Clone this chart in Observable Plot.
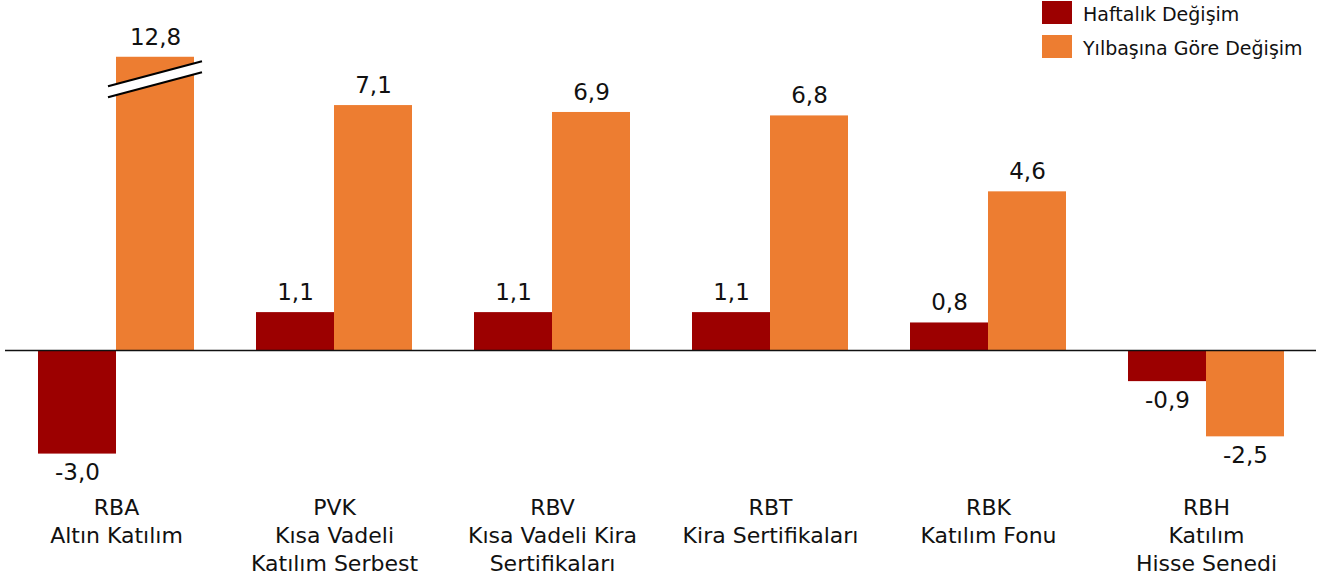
<!DOCTYPE html>
<html>
<head>
<meta charset="utf-8">
<script src="https://cdn.jsdelivr.net/npm/d3@7"></script>
<script src="https://cdn.jsdelivr.net/npm/@observablehq/plot@0.6"></script>
<style>
  html, body { margin: 0; padding: 0; background: #fff; }
  #wrap { position: relative; width: 1326px; height: 587px; font-family: "DejaVu Sans", sans-serif; }
  #legend { position: absolute; left: 1042px; top: 1px; font-size: 19px; color: #111; }
  .item { display: flex; align-items: center; height: 23px; margin-bottom: 11px; }
  .item span { position: relative; top: 1px; }
  .sw { width: 30px; height: 23px; margin-right: 11px; }
</style>
</head>
<body>
<div id="wrap"><div id="legend"></div></div>
<script>
const categories = ["RBA", "PVK", "RBV", "RBT", "RBK", "RBH"];
const categoryNames = [
  "RBA\nAltın Katılım",
  "PVK\nKısa Vadeli\nKatılım Serbest",
  "RBV\nKısa Vadeli Kira\nSertifikaları",
  "RBT\nKira Sertifikaları",
  "RBK\nKatılım Fonu",
  "RBH\nKatılım\nHisse Senedi"
];
const seriesNames = ["Haftalık Değişim", "Yılbaşına Göre Değişim"];
const seriesColors = ["#9c0000", "#ed7d31"];
const weekly = [-3.0, 1.1, 1.1, 1.1, 0.8, -0.9];
const ytd = [12.8, 7.1, 6.9, 6.8, 4.6, -2.5];

// axis break: bars taller than capValue are cut, with a break symbol at breakValue
const capValue = 8.5;
const breakValue = 7.85;

const W = 1326, H = 587;
const marginLeft = 5, marginRight = 10, marginTop = 5, marginBottom = 92;
const padInner = 0.286;
const bw = (W - marginLeft - marginRight) / categories.length * (1 - padInner);
const half = bw / 2;

const fmt = v => (v < 0 ? "-" : "") + Math.abs(v).toFixed(1).replace(".", ",");

const rows = [];
categories.forEach((c, i) => {
  rows.push({cat: c, s: 0, v: weekly[i], disp: Math.min(weekly[i], capValue)});
  rows.push({cat: c, s: 1, v: ytd[i], disp: Math.min(ytd[i], capValue)});
});
const nameOf = new Map(categories.map((c, i) => [c, categoryNames[i]]));

function breakMark(index, scales) {
  const sx = scales.x, sy = scales.y;
  const b = typeof sx.bandwidth === "function" ? sx.bandwidth() : bw;
  const xa = sx(categories[0]) + b / 2 - 8;
  const xb = sx(categories[0]) + b + 8;
  const yc = sy(breakValue);
  const rise = 12.5, gap = 5.5;
  const g = d3.create("svg:g");
  g.append("polygon")
    .attr("points", [[xa, yc + rise - gap], [xb, yc - rise - gap], [xb, yc - rise + gap], [xa, yc + rise + gap]].map(p => p.join(",")).join(" "))
    .attr("fill", "#fff");
  for (const o of [-gap, gap]) {
    g.append("line")
      .attr("x1", xa).attr("y1", yc + rise + o)
      .attr("x2", xb).attr("y2", yc - rise + o)
      .attr("stroke", "#000").attr("stroke-width", 2.2);
  }
  return g.node();
}

const vs = 23;
const chart = Plot.plot({
  width: W, height: H,
  marginLeft, marginRight, marginTop, marginBottom,
  style: {fontFamily: "DejaVu Sans, sans-serif", fontSize: "22px", color: "#111", background: "#fff"},
  x: {domain: categories, paddingInner: padInner, paddingOuter: padInner / 2, label: null},
  y: {domain: [-4.2, 10], axis: null},
  marks: [
    Plot.barY(rows.filter(d => d.s === 0), {x: "cat", y1: 0, y2: "disp", fill: seriesColors[0], insetRight: half}),
    Plot.barY(rows.filter(d => d.s === 1), {x: "cat", y1: 0, y2: "disp", fill: seriesColors[1], insetLeft: half}),
    breakMark,
    Plot.ruleY([0], {stroke: "#111", strokeWidth: 1.6}),
    Plot.text(rows.filter(d => d.s === 0 && d.v >= 0), {x: "cat", y: "disp", text: d => fmt(d.v), dx: -half / 2, dy: -20, fontSize: vs, fill: "#111"}),
    Plot.text(rows.filter(d => d.s === 1 && d.v >= 0), {x: "cat", y: "disp", text: d => fmt(d.v), dx: half / 2, dy: -20, fontSize: vs, fill: "#111"}),
    Plot.text(rows.filter(d => d.s === 0 && d.v < 0), {x: "cat", y: "disp", text: d => fmt(d.v), dx: -half / 2, dy: 19, fontSize: vs, fill: "#111"}),
    Plot.text(rows.filter(d => d.s === 1 && d.v < 0), {x: "cat", y: "disp", text: d => fmt(d.v), dx: half / 2, dy: 19, fontSize: vs, fill: "#111"}),
    Plot.axisX({tickSize: 0, tickPadding: -1, tickFormat: c => nameOf.get(c), lineHeight: 1.29, fontSize: 22, label: null})
  ]
});
document.getElementById("wrap").prepend(chart);

const legend = document.getElementById("legend");
seriesNames.forEach((n, i) => {
  const it = document.createElement("div");
  it.className = "item";
  const sw = document.createElement("div");
  sw.className = "sw";
  sw.style.background = seriesColors[i];
  const t = document.createElement("span");
  t.textContent = n;
  it.append(sw, t);
  legend.append(it);
});
</script>
</body>
</html>
